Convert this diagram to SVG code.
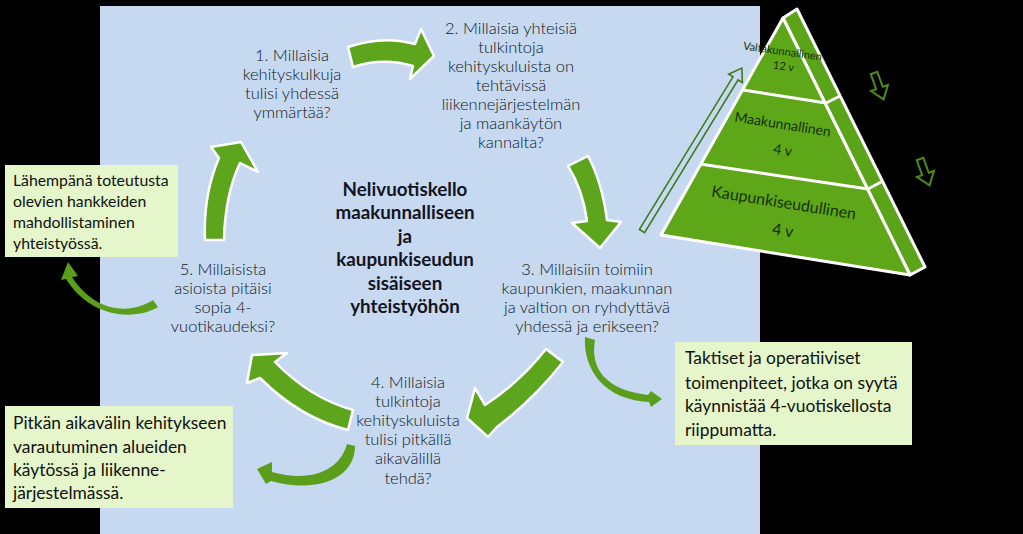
<svg xmlns="http://www.w3.org/2000/svg" width="1023" height="534" viewBox="0 0 1023 534">
<style>
.cyc{font-family:Lato,"Open Sans",sans-serif;font-size:16.5px;fill:#0e1722;text-anchor:middle;font-weight:300}
.ttl{font-family:Lato,"Open Sans",sans-serif;font-size:18.8px;font-weight:bold;fill:#14141e;text-anchor:middle}
.box{fill:#e4f6ca}
.bt{font-family:Lato,"Open Sans",sans-serif;fill:#111}
.pyt{font-family:Lato,"Open Sans",sans-serif;fill:#16300a;text-anchor:middle}
.big{fill:#5ca51d;stroke:#fff;stroke-width:2.5;stroke-linejoin:round}
.sm{fill:#5a9e1c}
.hol{fill:none;stroke:#4d8a1d;stroke-width:2}
</style>
<rect x="0" y="0" width="1023" height="534" fill="#000"/>
<rect x="100" y="6" width="660" height="528" fill="#c6d9f1"/>

<g id="pyramid">
<polygon points="783,18 797,9 925,267 910,275" fill="#5ba318" stroke="#fff" stroke-width="3" stroke-linejoin="round"/>
<polygon points="783,18 661,235 910,275" fill="#5ea718" stroke="#fff" stroke-width="3" stroke-linejoin="round"/>
<line x1="743" y1="90" x2="826" y2="103" stroke="#fff" stroke-width="3"/>
<line x1="826" y1="103" x2="840" y2="96" stroke="#fff" stroke-width="3"/>
<line x1="700" y1="164" x2="868" y2="189" stroke="#fff" stroke-width="3"/>
<line x1="868" y1="189" x2="881" y2="182" stroke="#fff" stroke-width="3"/>
<text class="pyt" font-size="11" transform="rotate(8 782 55)" x="782" y="55">Valtakunnallinen</text>
<text class="pyt" font-size="11" transform="rotate(8 783 70)" x="783" y="70">12 v</text>
<text class="pyt" font-size="14" transform="rotate(9 782 129)" x="782" y="129">Maakunnallinen</text>
<text class="pyt" font-size="14" transform="rotate(9 782 155)" x="782" y="155">4 v</text>
<text class="pyt" font-size="16" transform="rotate(9 783 208)" x="783" y="208">Kaupunkiseudullinen</text>
<text class="pyt" font-size="16" transform="rotate(9 782 236)" x="782" y="236">4 v</text>
</g>

<g id="n1"><text class="cyc"><tspan x="292" y="61">1. Millaisia</tspan><tspan x="292" y="80">kehityskulkuja</tspan><tspan x="292" y="99">tulisi yhdessä</tspan><tspan x="292" y="118">ymmärtää?</tspan></text></g>
<g id="n2"><text class="cyc"><tspan x="511" y="34">2. Millaisia yhteisiä</tspan><tspan x="511" y="53">tulkintoja</tspan><tspan x="511" y="72">kehityskuluista on</tspan><tspan x="511" y="91">tehtävissä</tspan><tspan x="511" y="110">liikennejärjestelmän</tspan><tspan x="511" y="129">ja maankäytön</tspan><tspan x="511" y="148">kannalta?</tspan></text></g>
<g id="n3"><text class="cyc"><tspan x="587" y="275">3. Millaisiin toimiin</tspan><tspan x="587" y="294">kaupunkien, maakunnan</tspan><tspan x="587" y="313">ja valtion on ryhdyttävä</tspan><tspan x="587" y="332">yhdessä ja erikseen?</tspan></text></g>
<g id="n4"><text class="cyc"><tspan x="408" y="388">4. Millaisia</tspan><tspan x="408" y="407">tulkintoja</tspan><tspan x="408" y="426">kehityskuluista</tspan><tspan x="408" y="445">tulisi pitkällä</tspan><tspan x="408" y="464">aikavälillä</tspan><tspan x="408" y="484">tehdä?</tspan></text></g>
<g id="n5"><text class="cyc"><tspan x="223" y="275">5. Millaisista</tspan><tspan x="223" y="294">asioista pitäisi</tspan><tspan x="223" y="313">sopia 4-</tspan><tspan x="223" y="332">vuotikaudeksi?</tspan></text></g>
<g id="title"><text class="ttl"><tspan x="405" y="196">Nelivuotiskello</tspan><tspan x="405" y="219">maakunnalliseen</tspan><tspan x="405" y="243">ja</tspan><tspan x="405" y="266">kaupunkiseudun</tspan><tspan x="405" y="290">sisäiseen</tspan><tspan x="405" y="313">yhteistyöhön</tspan></text></g>

<g id="box1"><rect class="box" x="5" y="165" width="173" height="92"/><text class="bt" font-size="15.8"><tspan x="13" y="186">Lähempänä toteutusta</tspan><tspan x="13" y="207">olevien hankkeiden</tspan><tspan x="13" y="228">mahdollistaminen</tspan><tspan x="13" y="249">yhteistyössä.</tspan></text></g>
<g id="box2"><rect class="box" x="5" y="406" width="228" height="102"/><text class="bt" font-size="17.4"><tspan x="13" y="429">Pitkän aikavälin kehitykseen</tspan><tspan x="13" y="453">varautuminen alueiden</tspan><tspan x="13" y="476">käytössä ja liikenne-</tspan><tspan x="13" y="499">järjestelmässä.</tspan></text></g>
<g id="box3"><rect class="box" x="675" y="342" width="237" height="103"/><text class="bt" font-size="17.4"><tspan x="685" y="364">Taktiset ja operatiiviset</tspan><tspan x="685" y="389">toimenpiteet, jotka on syytä</tspan><tspan x="685" y="412">käynnistää 4-vuotiskellosta</tspan><tspan x="685" y="436">riippumatta.</tspan></text></g>

<g id="connectors">
<path class="big" d="M348,47 Q383,35 415,44 L421,29 L434,56 L410,79 L413,66 Q383,57 353,67 Z"/>
<path class="big" d="M568,166 L588,156 Q602,182 607,220 L621,222 L600,248 L572,223 L587,221 Q583,190 568,166 Z"/>
<path class="big" d="M546,349 L563,362 Q535,398 497,427 L488,437 L467,418 L475,388 L485,405 Q520,382 546,349 Z"/>
<path class="big" d="M353,410 L348,430 Q300,418 260,378 L247,383 L252,355 L287,353 L275,362 Q310,398 353,410 Z"/>
<path class="big" d="M205,240 L224,240 Q225,195 240,163 L258,172 L241,142 L211,147 L219,158 Q203,195 205,240 Z"/>
<path class="sm" d="M153,300 L158,307 C135,321 90,318 66,279 L61,280 L68,262 L78,276 L72,277 C96,314 132,314 153,300 Z"/>
<path class="sm" d="M347,444 L355,446 C355,478 318,494 271,481 L266,484 L257,469 L272,462 L272,472 C312,483 340,470 347,444 Z"/>
<path class="sm" d="M585,337 L595,340 C590,368 605,390 648,395 L651,391 L662,399 L651,407 L649,402 C605,400 583,370 585,337 Z"/>
<path fill="none" stroke="#3f7a1a" stroke-width="1.6" transform="translate(642,231) rotate(-58.5)" d="M0,-3 L179,-3 L179,-8 L191,0 L179,8 L179,3 L0,3 Z"/>
<path class="hol" transform="translate(874,73) rotate(-20)" d="M-3.5,0 L3.5,0 L3.5,16 L9,16 L0,28 L-9,16 L-3.5,16 Z"/>
<path class="hol" transform="translate(920,159) rotate(-20)" d="M-3.5,0 L3.5,0 L3.5,16 L9,16 L0,28 L-9,16 L-3.5,16 Z"/>
</g>
</svg>
